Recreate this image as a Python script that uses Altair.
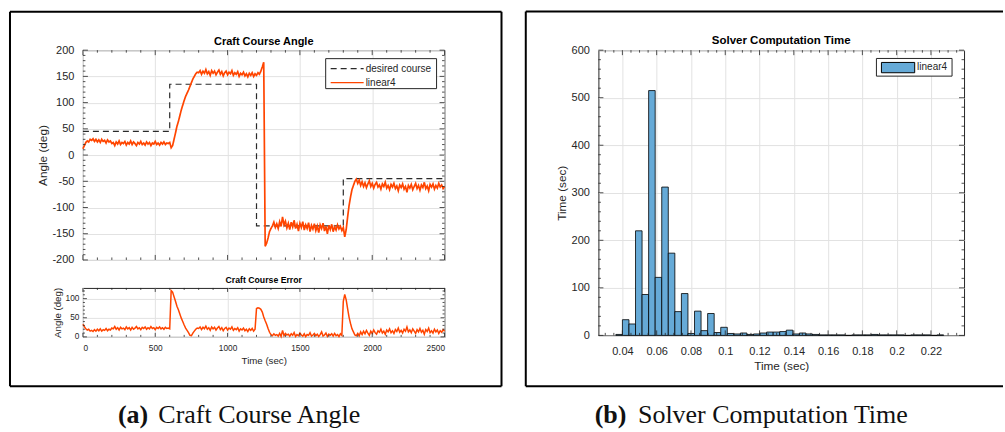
import altair as alt
import pandas as pd

SANS = "Liberation Sans"
SERIF = "Liberation Serif"
AX = "#262626"
GRID = "#e2e2e2"
ORANGE = "#ff4500"
DESIRED = "#2b2b2b"
BAR = "#66aad7"

# ---------------- data ----------------
sample_time = list(range(0, 2501, 10))

actual_course = [
    12, 18, 24, 27, 25, 30, 28, 31, 26, 30,
    25, 29, 24, 30, 26, 28, 23, 29, 25, 27,
    22, 24, 18, 25, 21, 27, 20, 24, 22, 26,
    19, 24, 21, 27, 20, 25, 22, 18, 24, 21,
    26, 20, 23, 19, 25, 21, 24, 18, 23, 21,
    26, 20, 23, 19, 24, 21, 25, 20, 23, 22,
    24,
    14, 18, 30, 42, 55, 64, 75, 86, 95, 104,
    112, 118, 124, 131, 138, 145, 150, 155, 158, 157,
    161, 154, 160, 156, 163, 155, 159, 152, 161, 156,
    160, 153, 158, 162, 154, 159, 151, 157, 160, 153,
    158, 155, 161, 152, 157, 154, 159, 150, 156, 153,
    158, 151, 155, 149, 156, 152, 157, 150, 155,
    152, 157, 154, 160, 168,
    177, -174,
    -168, -158, -146, -140, -135, -128, -138, -131, -140, -127,
    -136, -118, -133, -126, -139, -130, -142, -128, -137, -124,
    -140, -132, -145, -130, -138, -127, -143, -133, -140, -129,
    -146, -134, -141, -131, -144, -135, -148, -133, -140, -130,
    -145, -136, -150, -134, -142, -132, -146, -137, -143, -133,
    -141, -136, -144, -138,
    -156, -142, -118, -96, -80, -66, -58, -50, -46, -54,
    -48, -58, -51, -60, -53, -62, -55, -49, -60, -54,
    -63, -56, -52, -61, -57, -65, -55, -60, -52, -63,
    -58, -66, -56, -61, -54, -64, -59, -68, -57, -62,
    -55, -65, -60, -71, -58, -63, -56, -66, -60, -54,
    -64, -58, -67, -57, -62, -52, -64, -59, -68, -56,
    -61, -55, -65, -58, -63, -54, -61, -57, -64, -60,
]

course_error = [
    33, 27, 21, 18, 20, 15, 17, 14, 19, 15,
    20, 16, 21, 15, 19, 17, 22, 16, 20, 18,
    23, 21, 27, 20, 24, 18, 25, 21, 23, 19,
    26, 21, 24, 18, 25, 20, 23, 27, 21, 24,
    19, 25, 22, 26, 20, 24, 21, 27, 22, 24,
    19, 25, 22, 26, 21, 24, 20, 25, 22, 23,
    21,
    121, 117, 105, 93, 80, 71, 60, 49, 40, 31,
    23, 17, 11, 4, 3, 10, 15, 20, 23, 22,
    26, 19, 25, 21, 28, 20, 24, 17, 26, 21,
    25, 18, 23, 27, 19, 24, 16, 22, 25, 18,
    23, 20, 26, 17, 22, 19, 24, 15, 21, 18,
    23, 16, 20, 14, 21, 17, 22, 15, 20,
    74, 76, 75, 72, 65, 52, 42, 33, 22, 12, 6,
    3, 8, 4, 6, 2, 9, 1, 17, 3, 9,
    5, 7, 2, 8, 4, 11, 1, 6, 3, 10,
    5, 2, 8, 1, 6, 4, 11, 2, 5, 9,
    3, 7, 1, 6, 13, 2, 5, 10, 1, 7,
    4, 8, 2, 9, 3, 6, 1, 8, 4,
    93, 111, 97, 73, 51, 35, 21, 13, 5, 3, 9,
    3, 13, 6, 15, 8, 17, 10, 4, 15, 9,
    18, 11, 7, 16, 12, 20, 10, 15, 7, 18,
    13, 21, 11, 16, 9, 19, 14, 23, 12, 17,
    10, 20, 15, 26, 13, 18, 11, 21, 15, 9,
    19, 13, 22, 12, 17, 7, 19, 14, 23, 11,
    16, 10, 20, 13, 18, 9, 16, 12, 19, 15,
]

desired_time = [0, 600, 600, 1200, 1200, 1800, 1800, 2500]
desired_course = [45, 45, 135, 135, -135, -135, -45, -45]

series_names = ["desired course", "linear4"]

hist_first_edge = 0.03618
hist_bin_width = 0.003824
hist_counts = [
    2, 33, 24, 220, 86, 515, 122, 312, 173, 50,
    88, 4, 51, 10, 46, 6, 17, 4, 3, 5,
    2, 3, 5, 7, 7, 8, 11, 3, 5, 3,
    2, 1, 1, 1, 1, 0, 1, 1, 1, 2,
    1, 1, 1, 1, 0, 1, 1, 1, 0, 1,
]

# tick values
time_major = [0, 500, 1000, 1500, 2000, 2500]
time_minor = [100, 200, 300, 400, 600, 700, 800, 900, 1100, 1200, 1300, 1400,
              1600, 1700, 1800, 1900, 2100, 2200, 2300, 2400]
angle_major = [-200, -150, -100, -50, 0, 50, 100, 150, 200]
angle_minor = [v for v in range(-190, 200, 10) if v % 50 != 0]
err_major = [0, 50, 100]
err_minor = [10, 20, 30, 40, 60, 70, 80, 90, 110, 120]
hist_x_major = [0.04, 0.06, 0.08, 0.1, 0.12, 0.14, 0.16, 0.18, 0.2, 0.22]
hist_x_minor = [0.03, 0.035, 0.045, 0.05, 0.055, 0.065, 0.07, 0.075, 0.085, 0.09,
                0.095, 0.105, 0.11, 0.115, 0.125, 0.13, 0.135, 0.145, 0.15, 0.155,
                0.165, 0.17, 0.175, 0.185, 0.19, 0.195, 0.205, 0.21, 0.215, 0.225,
                0.23, 0.235]
hist_y_major = [0, 100, 200, 300, 400, 500, 600]
hist_y_minor = [v for v in range(20, 600, 20) if v % 100 != 0]

titles = ["Craft Course Angle", "Craft Course Error", "Solver Computation Time"]
caption_a = ["(a)", "Craft Course Angle"]
caption_b = ["(b)", "Solver Computation Time"]

ONE = pd.DataFrame({"k": [0]})
MINUS_FIX = "replace(datum.label, '\u2212', '-')"


# ---------------- helpers ----------------
def inward_ticks(xenc, yenc, xf, yf, W, H, xmaj, xmin, ymaj, ymin, lmaj, lmin):
    layers = []
    for vals, ln in ((xmaj, lmaj), (xmin, lmin)):
        base = alt.Chart(pd.DataFrame({xf: vals})).mark_rule(color=AX, strokeWidth=0.8)
        layers.append(base.encode(x=xenc, y=alt.value(H), y2=alt.value(H - ln)))
        layers.append(base.encode(x=xenc, y=alt.value(0), y2=alt.value(ln)))
    for vals, ln in ((ymaj, lmaj), (ymin, lmin)):
        base = alt.Chart(pd.DataFrame({yf: vals})).mark_rule(color=AX, strokeWidth=0.8)
        layers.append(base.encode(y=yenc, x=alt.value(0), x2=alt.value(ln)))
        layers.append(base.encode(y=yenc, x=alt.value(W), x2=alt.value(W - ln)))
    return layers


def label(text, x, y, size, font=SANS, weight="normal", align="left",
          baseline="alphabetic", color=AX):
    return alt.Chart(pd.DataFrame({"s": [text]})).mark_text(
        font=font, fontSize=size, fontWeight=weight, align=align, baseline=baseline,
        color=color).encode(x=alt.value(x), y=alt.value(y), text="s:N")


def seg(x0, x1, y0, y1, sw, color="black"):
    return alt.Chart(ONE).mark_rule(color=color, strokeWidth=sw).encode(
        x=alt.value(x0), x2=alt.value(x1), y=alt.value(y0), y2=alt.value(y1))


def frame_and_caption(x0, x1, y0, y1, caption, bold_x, text_x, base_y, right_side=True):
    parts = [
        seg(x0, x1, y0, y0, 2),
        seg(x0, x1, y1, y1, 2),
        seg(x0, x0, y0, y1, 2),
    ]
    if right_side:
        parts.append(seg(x1, x1, y0, y1, 2))
    parts += [
        label(caption[0], bold_x, base_y, 26, SERIF, "bold", color="#111111"),
        label(caption[1], text_x, base_y, 26, SERIF, color="#111111"),
    ]
    return parts


# ---------------- panel A: course angle ----------------
WA, HA = 362, 210
xs_time = alt.Scale(domain=[0, 2500], nice=False, zero=False)
ys_angle = alt.Scale(domain=[-200, 200], nice=False, zero=False)

n_d = len(desired_time)
course_df = pd.DataFrame({
    "t": desired_time + sample_time,
    "deg": desired_course + actual_course,
    "series": [series_names[0]] * n_d + [series_names[1]] * len(actual_course),
    "i": list(range(n_d)) + list(range(len(actual_course))),
})

xa = alt.X("t:Q", scale=xs_time,
           axis=alt.Axis(values=time_major, labels=False, title=None, grid=True))
ya = alt.Y("deg:Q", scale=ys_angle,
           axis=alt.Axis(values=angle_major, format="d", labelExpr=MINUS_FIX,
                         title="Angle (deg)", labelFontSize=11,
                         labelPadding=9, titleFontSize=11.8, titlePadding=3, grid=True))

lines_a = alt.Chart(course_df).mark_line().encode(
    x=xa, y=ya,
    color=alt.Color("series:N", scale=alt.Scale(domain=series_names, range=[DESIRED, ORANGE]),
                    legend=None),
    strokeDash=alt.StrokeDash("series:N", scale=alt.Scale(domain=series_names, range=[[6, 4], [1, 0]]),
                              legend=None),
    strokeWidth=alt.StrokeWidth("series:N", scale=alt.Scale(domain=series_names, range=[1.2, 1.7]),
                                legend=None),
    order=alt.Order("i:Q"),
)

legend_a = [
    alt.Chart(ONE).mark_rect(fill="white", stroke=AX, strokeWidth=1).encode(
        x=alt.value(243), x2=alt.value(354), y=alt.value(8.5), y2=alt.value(38.5)),
    alt.Chart(ONE).mark_rule(color=DESIRED, strokeWidth=1.3, strokeDash=[6, 4]).encode(
        x=alt.value(248), x2=alt.value(281), y=alt.value(18.5)),
    alt.Chart(ONE).mark_rule(color=ORANGE, strokeWidth=1.3).encode(
        x=alt.value(248), x2=alt.value(281), y=alt.value(32.5)),
    label(series_names[0], 283, 18.5, 10, baseline="middle"),
    label(series_names[1], 283, 32.5, 10, baseline="middle"),
]

panel_a = alt.layer(
    lines_a,
    *inward_ticks(xa, ya, "t", "deg", WA, HA, time_major, time_minor, angle_major, angle_minor, 5, 2.5),
    *legend_a,
    label(titles[0], WA / 2, -5.5, 11, weight="bold", align="center", color="black"),
    *frame_and_caption(-73, 419, -38.5, 336.5, caption_a, 35, 75.5, 373.5),
).properties(width=WA, height=HA)

# ---------------- panel B: course error ----------------
WB, HB = 362, 49
ys_err = alt.Scale(domain=[0, 128], nice=False, zero=False)
err_df = pd.DataFrame({"t": sample_time, "err": course_error})

xb = alt.X("t:Q", scale=xs_time,
           axis=alt.Axis(values=time_major, format="d", title="Time (sec)", labelFontSize=8.3,
                         labelPadding=7, titleFontSize=9.7, titlePadding=3, grid=True))
yb = alt.Y("err:Q", scale=ys_err,
           axis=alt.Axis(values=err_major, format="d", title="Angle (deg)", labelFontSize=8.3,
                         labelPadding=4, titleFontSize=9.7, titlePadding=3, grid=True))

line_b = alt.Chart(err_df).mark_line(color=ORANGE, strokeWidth=1.5).encode(x=xb, y=yb)

panel_b = alt.layer(
    line_b,
    *inward_ticks(xb, yb, "t", "err", WB, HB, time_major, time_minor, err_major, err_minor, 4, 2),
    label(titles[1], WB / 2, -5, 8.7, weight="bold", align="center", color="black"),
).properties(width=WB, height=HB)

# ---------------- panel C: histogram ----------------
WC, HC = 366, 285.5
xs_h = alt.Scale(domain=[0.026, 0.2393], nice=False, zero=False)
ys_h = alt.Scale(domain=[0, 600], nice=False)

lo = [hist_first_edge + k * hist_bin_width for k in range(len(hist_counts))]
hist_df = pd.DataFrame({
    "lo": lo,
    "hi": [v + hist_bin_width for v in lo],
    "n": hist_counts,
})

xc = alt.X("lo:Q", scale=xs_h,
           axis=alt.Axis(values=hist_x_major, format=".2~f", title="Time (sec)",
                         labelFontSize=11, labelPadding=10, titleFontSize=11.8,
                         titlePadding=4, grid=True))
yc = alt.Y("n:Q", scale=ys_h,
           axis=alt.Axis(values=hist_y_major, format="d", title="Time (sec)", labelFontSize=11,
                         labelPadding=9, titleFontSize=11.8, titlePadding=4, grid=True))

bars_c = alt.Chart(hist_df).mark_bar(fill=BAR, stroke="black", strokeWidth=0.8).encode(
    x=xc, x2="hi:Q", y=yc, y2=alt.datum(0),
)

legend_c = [
    alt.Chart(ONE).mark_rect(fill="white", stroke=AX, strokeWidth=1).encode(
        x=alt.value(278.3), x2=alt.value(354), y=alt.value(8.3), y2=alt.value(26)),
    alt.Chart(ONE).mark_rect(fill=BAR, stroke="black", strokeWidth=1).encode(
        x=alt.value(283.3), x2=alt.value(316.6), y=alt.value(12.3), y2=alt.value(22.6)),
    label(series_names[1], 319, 17.3, 10, baseline="middle"),
]

panel_c = alt.layer(
    bars_c,
    *inward_ticks(xc, yc, "lo", "n", WC, HC, hist_x_major, hist_x_minor, hist_y_major, hist_y_minor, 5, 2.5),
    *legend_c,
    label(titles[2], WC / 2, -5.7, 11.5, weight="bold", align="center", color="black"),
    *frame_and_caption(-72.7, 405, -38.7, 336.3, caption_b, -3.7, 39.6, 373.5, right_side=False),
).properties(width=WC, height=HC)

left = alt.vconcat(panel_a, panel_b, spacing=28, bounds="flush")
chart = alt.hconcat(left, panel_c, spacing=WA + 154, bounds="flush").resolve_scale(
    color="independent", strokeDash="independent", strokeWidth="independent"
).properties(
    padding={"left": 8, "top": 9, "right": 0, "bottom": 0},
    background="white",
).configure_view(stroke=AX, strokeWidth=1).configure_axis(
    labelFont=SANS, titleFont=SANS, labelColor=AX, titleColor=AX,
    titleFontWeight="normal", domain=False, ticks=False, gridColor=GRID, gridWidth=1,
)

chart.save("out.html", embed_options={"renderer": "svg", "actions": False})
